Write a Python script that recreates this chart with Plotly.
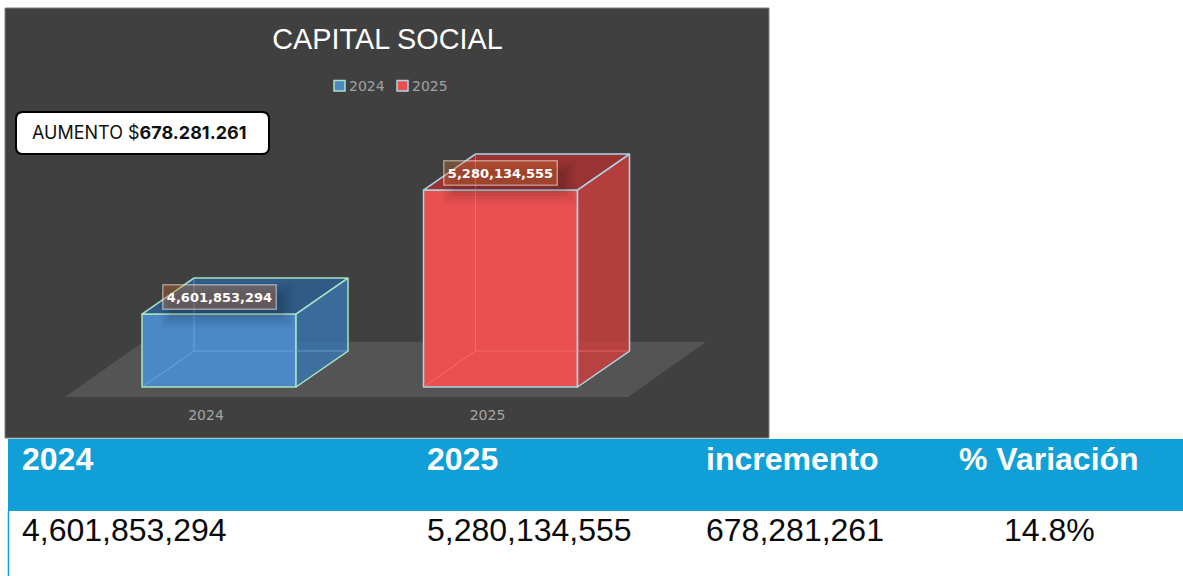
import plotly.graph_objects as go

# ---------- data ----------
categories = ["2024", "2025"]
values = [4601853294, 5280134555]
axis_base = 4203000000
chart_title = "CAPITAL SOCIAL"
callout_plain = "AUMENTO $"
callout_bold = "678.281.261"
table_headers = ["2024", "2025", "incremento", "% Variación"]
table_row = ["4,601,853,294", "5,280,134,555", "678,281,261", "14.8%"]

# ---------- style ----------
W, H = 1183, 576
PANEL = (5, 8, 769, 438)
FRONT = ["#4C88C6", "#EA5050"]
TOP = ["#2F5B86", "#9A3434"]
SIDE = ["rgba(56,118,175,0.82)", "rgba(206,62,62,0.82)"]
EDGE = ["#A9E2C2", "#ABD6E8"]
INNER = ["rgba(125,190,235,0.55)", "rgba(255,125,125,0.6)"]
HEADER_BLUE = "#119FD8"

# pixel geometry of the axes
PX_PER_CAT = 281.5
CAT0_PX = 219
FLOOR_FRONT_PX = 397
BASE_PX = 387
VAL_PER_PX = (values[1] - values[0]) / 124.0
BAR_W = 154 / PX_PER_CAT
DX = 52 / PX_PER_CAT
DY = 36 * VAL_PER_PX

def px(x):
    return x / W

def py(y):
    return 1 - y / H

def rounded(x0, y0, x1, y1, r):
    a, b, c, d = px(x0), py(y0), px(x1), py(y1)
    rx, ry = r / W, r / H
    return (f"M{a+rx},{b} L{c-rx},{b} Q{c},{b} {c},{b-ry} L{c},{d+ry} Q{c},{d} {c-rx},{d} "
            f"L{a+rx},{d} Q{a},{d} {a},{d+ry} L{a},{b-ry} Q{a},{b} {a+rx},{b} Z")

fig = go.Figure()
positions = list(range(len(categories)))

for i, (name, v) in enumerate(zip(categories, values)):
    left, right = i - BAR_W / 2, i + BAR_W / 2
    # front face
    fig.add_trace(go.Bar(
        x=[i], y=[v - axis_base], base=[axis_base], width=[BAR_W], name=name,
        marker=dict(color=FRONT[i], line=dict(color=EDGE[i], width=1.5)),
        showlegend=False, hoverinfo="skip",
    ))
    # top face
    fig.add_trace(go.Scatter(
        x=[left, right, right + DX, left + DX, left],
        y=[v, v, v + DY, v + DY, v],
        mode="lines", fill="toself", fillcolor=TOP[i],
        line=dict(color=EDGE[i], width=1.5), showlegend=False, hoverinfo="skip",
    ))
    # right face
    fig.add_trace(go.Scatter(
        x=[right, right + DX, right + DX, right, right],
        y=[axis_base, axis_base + DY, v + DY, v, axis_base],
        mode="lines", fill="toself", fillcolor=SIDE[i],
        line=dict(color=EDGE[i], width=1.5), showlegend=False, hoverinfo="skip",
    ))
    # hidden back edges seen through the box
    fig.add_trace(go.Scatter(
        x=[left, left + DX, left + DX, None, left + DX, right + DX],
        y=[axis_base, axis_base + DY, v + DY, None, axis_base + DY, axis_base + DY],
        mode="lines", line=dict(color=INNER[i], width=1),
        showlegend=False, hoverinfo="skip",
    ))

# floor, in axis units
fx0 = (65 - CAT0_PX) / PX_PER_CAT
fx1 = (628 - CAT0_PX) / PX_PER_CAT
fdx = 78 / PX_PER_CAT
fy0 = axis_base - (FLOOR_FRONT_PX - BASE_PX) * VAL_PER_PX
fy1 = fy0 + 55 * VAL_PER_PX

shapes = [
    dict(type="rect", xref="paper", yref="paper", x0=px(PANEL[0]), x1=px(PANEL[2]),
         y0=py(PANEL[3]), y1=py(PANEL[1]), fillcolor="#404040",
         line=dict(color="#808080", width=1), layer="below"),
    dict(type="path", xref="x", yref="y",
         path=f"M{fx0},{fy0} L{fx1},{fy0} L{fx1+fdx},{fy1} L{fx0+fdx},{fy1} Z",
         fillcolor="#545454", line=dict(width=0), layer="below"),
    dict(type="path", xref="paper", yref="paper", path=rounded(16, 112, 269, 154, 7),
         fillcolor="#FFFFFF", line=dict(color="#000000", width=2), layer="above"),
    dict(type="rect", xref="paper", yref="paper", x0=px(8), x1=1,
         y0=py(511), y1=py(439), fillcolor=HEADER_BLUE, line=dict(width=0), layer="above"),
    dict(type="line", xref="paper", yref="paper", x0=px(8.5), x1=px(8.5),
         y0=0, y1=py(511), line=dict(color=HEADER_BLUE, width=1.5), layer="above"),
]

# legend swatches
legend_swatch_px = [334, 397]
legend_text_px = [349, 412]
for i in positions:
    shapes.append(dict(type="rect", xref="paper", yref="paper",
                       x0=px(legend_swatch_px[i]), x1=px(legend_swatch_px[i] + 11),
                       y0=py(91), y1=py(80.5), fillcolor=FRONT[i],
                       line=dict(color=EDGE[i], width=1.5)))

annotations = []
# value labels, attached to the bars through the axes (soft shadow made of faint layers)
shadow_layers = [(136, 46, 0.025), (130, 40, 0.03), (124, 34, 0.035), (118, 28, 0.04), (112, 22, 0.045)]
for i, v in enumerate(values):
    for w_, h_, a in shadow_layers:
        annotations.append(dict(x=i, y=v, xref="x", yref="y", xshift=8, yshift=8, text=" ",
                                showarrow=False, width=w_, height=h_,
                                bgcolor=f"rgba(0,0,0,{a})", borderwidth=0, borderpad=0))
    annotations.append(dict(
        x=i, y=v, xref="x", yref="y", yshift=17.5, showarrow=False,
        text=f"<b>{v:,}</b>", width=112, height=23, align="center", valign="middle",
        font=dict(family="DejaVu Sans", size=13, color="#FFFFFF"),
        bgcolor="rgba(237,125,49,0.3)", bordercolor="rgba(255,255,255,0.45)",
        borderwidth=1.5, borderpad=0,
    ))

# legend text
for i, c in enumerate(categories):
    annotations.append(dict(x=px(legend_text_px[i]), y=py(85.5), xref="paper", yref="paper",
                            xanchor="left", yanchor="middle", showarrow=False, text=c,
                            font=dict(family="DejaVu Sans", size=14, color="#A0A0A0"),
                            borderpad=0, borderwidth=0))

# callout
annotations.append(dict(x=px(30), y=py(132.5), xref="paper", yref="paper", xanchor="left",
                        yanchor="middle", showarrow=False,
                        text=f"{callout_plain}<b>{callout_bold}</b>",
                        font=dict(family="Inter", size=18, color="#111111")))

# table
col_left = [21, 426, 705, None]
for j, (hd, cell) in enumerate(zip(table_headers, table_row)):
    if col_left[j] is None:
        xpos, anchor = px(1049), "center"
    else:
        xpos, anchor = px(col_left[j]), "left"
    annotations.append(dict(x=xpos, y=py(458.5), xref="paper", yref="paper", xanchor=anchor,
                            yanchor="middle", showarrow=False, text=f"<b>{hd}</b>",
                            font=dict(family="Liberation Sans", size=32, color="#FFFFFF"),
                            borderpad=0))
    annotations.append(dict(x=xpos, y=py(529.5), xref="paper", yref="paper", xanchor=anchor,
                            yanchor="middle", showarrow=False, text=cell,
                            font=dict(family="Liberation Sans", size=32, color="#0A0A0A"),
                            borderpad=0))

fig.update_layout(
    width=W, height=H, autosize=False,
    margin=dict(l=0, r=0, t=0, b=0, pad=0),
    paper_bgcolor="#FFFFFF", plot_bgcolor="rgba(0,0,0,0)",
    barmode="overlay", showlegend=False,
    title=dict(text=chart_title, x=387.5 / W, xanchor="center", y=py(39), yanchor="middle",
               font=dict(family="Liberation Sans", size=28.8, color="#FFFFFF")),
    xaxis=dict(domain=[px(PANEL[0]), px(PANEL[2])],
               range=[(PANEL[0] - CAT0_PX) / PX_PER_CAT, (PANEL[2] - CAT0_PX) / PX_PER_CAT],
               tickmode="array", tickvals=[p - 13 / PX_PER_CAT for p in positions],
               ticktext=categories, ticklen=0, showgrid=False, zeroline=False, showline=False,
               ticklabelstandoff=8,
               tickfont=dict(family="DejaVu Sans", size=14, color="#A6A6A6")),
    yaxis=dict(domain=[py(FLOOR_FRONT_PX), py(PANEL[1])],
               range=[fy0, fy0 + (FLOOR_FRONT_PX - PANEL[1]) * VAL_PER_PX],
               visible=False),
    shapes=shapes, annotations=annotations,
)

fig.write_html("out.html", config=dict(displayModeBar=False),
               post_script="document.body.style.margin='0';document.body.style.overflow='hidden';")
